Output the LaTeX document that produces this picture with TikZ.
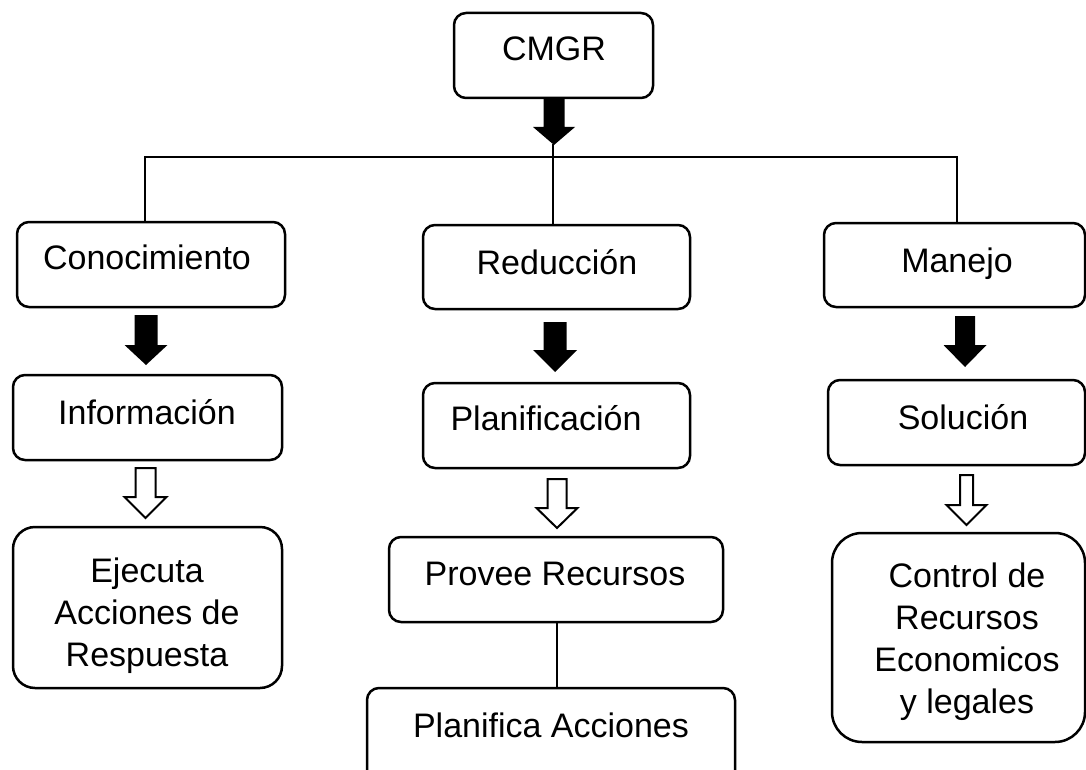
\documentclass[tikz,border=0pt]{standalone}
\usepackage{fontspec}
\setmainfont{Liberation Sans}
\newcommand{\vertarrow}[7]{%
  \path[#1] ({#2-#3},#5) -- ({#2+#3},#5) -- ({#2+#3},#6) -- ({#2+#4},#6) -- (#2,#7) -- ({#2-#4},#6) -- ({#2-#3},#6) -- cycle;}
\newcommand{\boxnode}[6]{%
  \node[boxn,#6,minimum width={#4-#2},minimum height={#5-#3}] (#1) at ({(#2+#4)/2},{(#3+#5)/2}) {};}
\tikzset{
  boxn/.style={draw=black,line width=2.5pt,rounded corners=12pt,inner sep=0pt,fill=white},
  biground/.style={rounded corners=22pt},
  hugeround/.style={rounded corners=30pt},
  txt/.style={font=\fontsize{34}{42}\selectfont,inner sep=0pt,text=black},
  conn/.style={draw=black,line width=2pt},
  solidarr/.style={fill=black},
  hollowarr/.style={draw=black,line width=2pt,fill=white,line join=miter},
}
\begin{document}
\begin{tikzpicture}[x=1pt,y=-1pt]
\useasboundingbox (0,0) rectangle (1086,770);
\clip (0,0) rectangle (1086,770);
\fill[white] (0,0) rectangle (1086,770);
% boxes
\boxnode{cmgr}{454}{13}{653}{98}{}
\boxnode{con}{17}{222}{285}{307}{}
\boxnode{red}{423}{225}{690}{309}{}
\boxnode{man}{824}{223}{1085}{307}{}
\boxnode{inf}{13}{375}{282}{460}{}
\boxnode{pla}{423}{383}{690}{468}{}
\boxnode{sol}{828}{380}{1085}{465}{}
\boxnode{eje}{13}{527}{282}{688}{biground}
\boxnode{prov}{389}{537}{723}{622}{}
\boxnode{plan}{367}{688}{735}{800}{}
\boxnode{ctrl}{832}{533}{1085}{742}{hugeround}
% texts
\node[txt,anchor=base] (tcmgr) at (554,61) {CMGR};
\node[txt,anchor=base] (tcon) at (147,269) {Conocimiento};
\node[txt,anchor=base] (tinf) at (147,424) {Información};
\node[txt,anchor=north,align=center] (teje) at (147,558) {Ejecuta\\Acciones de\\Respuesta};
\node[txt,anchor=base] (tred) at (557,274) {Reducción};
\node[txt,anchor=base] (tpla) at (546,430) {Planificación};
\node[txt,anchor=base] (tprov) at (555,585) {Provee Recursos};
\node[txt,anchor=base] (tplan) at (551,737) {Planifica Acciones};
\node[txt,anchor=base] (tman) at (957,272) {Manejo};
\node[txt,anchor=base] (tsol) at (963,429) {Solución};
\node[txt,anchor=north,align=center] (tctrl) at (967,563) {Control de\\Recursos\\Economicos\\y legales};
% tree connectors
\draw[conn] ([xshift=-6pt]con.north) -- ++(0,-64) -| ([xshift=2.5pt]man.north);
\draw[conn] ([xshift=-3.5pt]red.north) -- ++(0,-80);
\draw[conn] ([xshift=1pt]prov.south) -- ([xshift=1pt]prov.south |- plan.north);
% solid arrows
\vertarrow{solidarr}{554}{10.5}{21}{98}{127}{145}
\vertarrow{solidarr}{146}{11.5}{21.5}{315}{345}{365}
\vertarrow{solidarr}{555}{11.5}{22}{322}{350}{372}
\vertarrow{solidarr}{965}{10}{21.5}{316}{345}{367}
% hollow arrows
\vertarrow{hollowarr}{145.5}{10}{21}{468}{497}{518}
\vertarrow{hollowarr}{557}{9.5}{20.5}{479}{508}{528}
\vertarrow{hollowarr}{966.5}{6.5}{20}{475}{505}{525}
\end{tikzpicture}
\end{document}
